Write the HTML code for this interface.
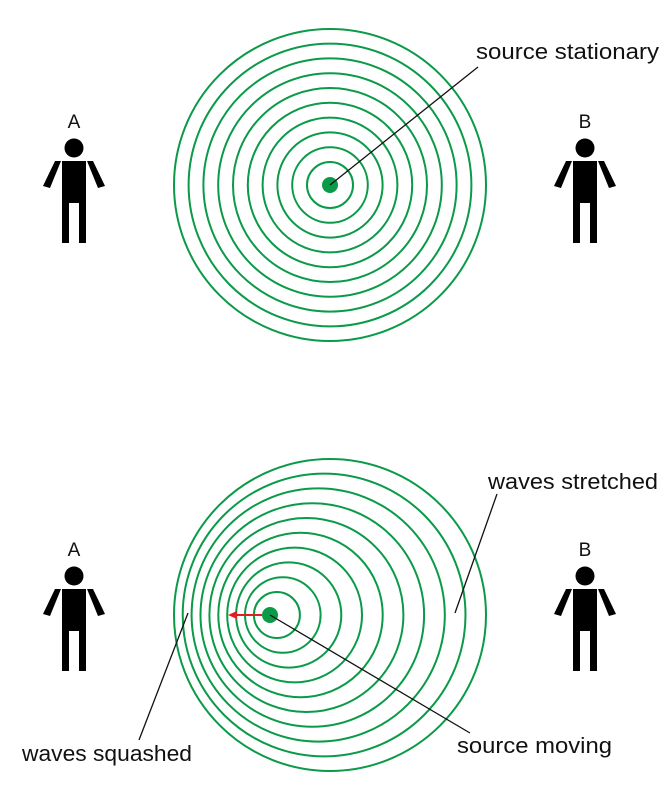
<!DOCTYPE html>
<html><head><meta charset="utf-8"><style>
html,body{margin:0;padding:0;background:#fff;}
svg{display:block;}
text{font-family:"Liberation Sans",sans-serif;font-size:22px;fill:#111;}
</style></head><body>
<svg id="c" width="672" height="791" viewBox="0 0 672 791" xmlns="http://www.w3.org/2000/svg">
<g id="topg"></g>
<g id="botg"></g>
<circle cx="330" cy="185" r="8" fill="#0a9a48"/>
<line x1="478" y1="67" x2="330" y2="185" stroke="#111" stroke-width="1.3"/>
<text x="476" y="59" textLength="183" lengthAdjust="spacingAndGlyphs">source stationary</text>
<circle cx="270" cy="615" r="8" fill="#0a9a48"/>
<line x1="262" y1="615" x2="234" y2="615" stroke="#e02020" stroke-width="2"/>
<polygon points="228,615 237,611 237,619" fill="#e02020"/>
<line x1="270" y1="615" x2="470" y2="733" stroke="#111" stroke-width="1.3"/>
<text x="457" y="753" textLength="155" lengthAdjust="spacingAndGlyphs">source moving</text>
<line x1="497" y1="494" x2="455" y2="613" stroke="#111" stroke-width="1.3"/>
<text x="488" y="489" textLength="170" lengthAdjust="spacingAndGlyphs">waves stretched</text>
<line x1="188" y1="613" x2="139" y2="740" stroke="#111" stroke-width="1.3"/>
<text x="22" y="761" textLength="170" lengthAdjust="spacingAndGlyphs">waves squashed</text>
<g id="people"></g>
</svg>
<script>
const radii=[23,37.8,52.6,67.4,82.2,97,111.8,126.6,141.4,156];
const shift=[0,5.9,11.8,17.7,23.6,29.5,35.4,41.3,47.2,53.1];
const ns="http://www.w3.org/2000/svg";
const gTop=document.getElementById('topg'),gBot=document.getElementById('botg');
radii.forEach((r,i)=>{
  let c=document.createElementNS(ns,'circle');
  c.setAttribute('cx',330);c.setAttribute('cy',185);c.setAttribute('r',r);
  c.setAttribute('fill','none');c.setAttribute('stroke','#0a9a48');c.setAttribute('stroke-width','2');
  
  
  gTop.appendChild(c);
  let d=document.createElementNS(ns,'circle');
  d.setAttribute('cx',276.9+shift[i]);d.setAttribute('cy',615);d.setAttribute('r',r);
  d.setAttribute('fill','none');d.setAttribute('stroke','#0a9a48');d.setAttribute('stroke-width','2');
  
  
  gBot.appendChild(d);
});
const people=[["A",74,0],["B",585,0],["A",74,428],["B",585,428]];
const pg=document.getElementById('people');
people.forEach(p=>{
  const x=p[1],y=p[2];
  const g=document.createElementNS(ns,'g');
  
  
  g.innerHTML=`<text x="${x}" y="${y+128}" text-anchor="middle" style="font-size:19px">${p[0]}</text>
<circle cx="${x}" cy="${y+148}" r="9.5" fill="#000"/>
<rect x="${x-12}" y="${y+161}" width="24" height="42" fill="#000"/>
<rect x="${x-12}" y="${y+203}" width="7" height="40" fill="#000"/>
<rect x="${x+5}" y="${y+203}" width="7" height="40" fill="#000"/>
<polygon points="${x-19},${y+161} ${x-13},${y+161} ${x-24},${y+188} ${x-31},${y+186}" fill="#000"/>
<polygon points="${x+19},${y+161} ${x+13},${y+161} ${x+24},${y+188} ${x+31},${y+186}" fill="#000"/>`;
  pg.appendChild(g);
});
</script>
</body></html>
